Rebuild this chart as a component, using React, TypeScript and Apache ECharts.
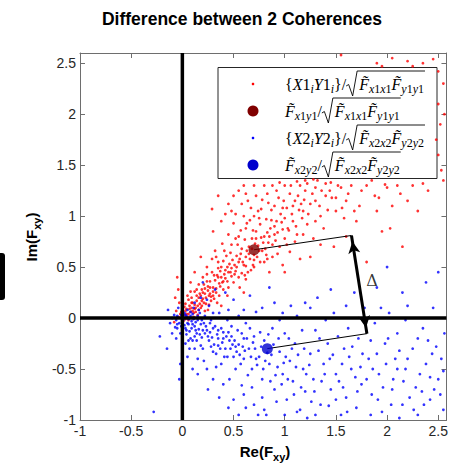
import React, { useEffect, useRef } from 'react';
import * as echarts from 'echarts';

// ---------------- data ----------------
const xRange = [-1, 2.58];
const yRange = [-1, 2.6];
const tickValues = [-1, -0.5, 0, 0.5, 1, 1.5, 2, 2.5];

const redPoints: number[][] = [
  [0.02,0.03],[0.05,0.01],[-0.02,0.04],[0.08,0.06],[0.04,0.09],[0.11,0.05],[0.01,-0.03],[0.07,0.12],[0.13,0.1],[-0.04,0.01],
  [0.1,0.15],[0.16,0.08],[0.03,0.14],[0.06,-0.02],[0.14,0.17],[0.19,0.12],[0.09,0.2],[-0.06,0.07],[0.2,0.19],[0.17,0.24],
  [0.23,0.14],[0.12,0.26],[0.26,0.22],[0.22,0.29],[0.0,0.1],[0.15,0.03],[-0.08,-0.04],[0.28,0.17],[0.05,0.22],[0.25,0.08],
  [0.3,0.3],[0.33,0.25],[0.27,0.36],[0.36,0.34],[0.31,0.42],[0.4,0.28],[0.38,0.4],[0.44,0.36],[0.35,0.49],[0.42,0.47],
  [0.48,0.41],[0.46,0.53],[0.52,0.46],[0.5,0.35],[0.4,0.56],[0.55,0.55],[0.58,0.44],[0.53,0.61],[0.6,0.52],[0.47,0.64],
  [0.62,0.6],[0.56,0.3],[0.34,0.15],[0.44,0.22],[0.2,0.4],[0.16,0.33],[0.24,0.5],[0.29,0.58],[0.62,0.38],[0.67,0.47],
  [0.22,0.07],[0.38,0.12],[0.6,0.25],[0.12,0.45],[0.18,0.6],[0.32,0.66],[0.45,0.3],[0.25,0.27],[0.58,0.68],[0.39,0.73],
  [0.65,0.7],[0.7,0.62],[0.68,0.78],[0.74,0.71],[0.72,0.85],[0.78,0.66],[0.8,0.8],[0.76,0.92],[0.84,0.74],[0.86,0.88],
  [0.82,0.97],[0.9,0.82],[0.92,0.95],[0.95,0.7],[0.88,0.6],[0.62,0.88],[0.55,0.8],[0.5,0.93],[0.6,1.0],[0.98,0.87],
  [1.0,0.78],[0.7,0.5],[0.8,0.55],[0.96,1.02],[0.74,1.05],[0.45,0.82],[0.66,0.96],[1.05,0.65],[0.85,0.45],[0.9,1.1],
  [0.58,1.12],[0.78,1.16],[1.08,0.95],[1.12,0.82],[0.3,0.85],[0.42,1.02],[1.15,0.58],[0.98,0.52],
  [1.02,1.08],[1.1,1.15],[1.05,1.22],[1.18,1.05],[1.2,1.25],[1.15,1.3],[1.25,1.12],[1.3,1.28],[1.22,0.92],[1.35,1.0],
  [1.28,0.78],[1.4,1.2],[1.0,1.3],[0.92,1.25],[1.45,1.33],[1.38,0.88],[1.5,1.05],[1.32,1.35],[1.55,1.28],[1.48,0.7],
  [1.6,1.15],[0.8,1.3],[1.12,1.34],[1.65,1.3],[1.7,0.95],[1.25,0.6],
  [1.75,1.25],[1.85,1.35],[1.9,1.05],[2.0,1.28],[2.1,1.3],[1.95,0.85],[2.25,1.3],[2.4,1.25],[2.55,1.35],[2.3,1.05],
  [2.5,1.6],[2.52,1.9],[2.5,2.1],[2.55,2.3],[2.48,1.75],[1.9,2.5],[2.05,2.55],[2.2,2.52],[2.35,2.5],[2.45,2.54],
  [1.55,2.58],[1.95,2.47],[2.25,2.47],[0.6,1.3],[0.5,1.2],[2.15,0.7],[1.8,0.55],[1.0,0.45],
  [0.29,1.07],[-0.05,0.4],[0.08,0.35],[1.98,1.31],[2.13,1.22],[2.03,0.88],[2.53,1.45],[2.56,2.0],[2.5,2.42],
  [0.18,0.22],[0.21,0.33],[0.27,0.24],[0.32,0.37],[0.29,0.45],[0.37,0.31],[0.41,0.43],[0.35,0.55],[0.44,0.5],[0.49,0.57],
  [0.43,0.61],[0.51,0.52],[0.57,0.63],[0.54,0.72],[0.63,0.66],[0.66,0.58],[0.61,0.77],[0.71,0.73],[0.69,0.86],[0.77,0.79],
  [0.73,0.6],[0.83,0.84],[0.81,0.68],[0.87,0.96],[0.91,0.76],[0.64,0.45],[0.47,0.45],[0.36,0.22],[0.24,0.43],[0.14,0.28],
  [0.09,0.15],[0.19,0.17],[0.06,0.18],[0.26,0.13],[0.31,0.19],[0.13,0.06],[0.03,0.07],[0.11,0.01],[0.17,0.14],[0.23,0.2],
  [0.99,1.15],[1.07,1.02],[0.94,1.18],[1.13,1.2],[1.17,0.98],[0.75,0.98],[0.67,1.08],[0.87,1.06],[1.27,1.22],[1.03,0.88],
  [0.15,0.12],[0.2,0.25],[0.25,0.31],[0.28,0.21],[0.33,0.29],[0.35,0.4],[0.39,0.35],[0.42,0.39],[0.45,0.45],[0.48,0.49],
  [0.51,0.43],[0.53,0.5],[0.56,0.58],[0.59,0.55],[0.62,0.51],[0.65,0.63],[0.68,0.68],[0.7,0.57],[0.72,0.78],[0.75,0.66],
  [0.79,0.74],[0.82,0.62],[0.85,0.8],[0.88,0.72],[0.9,0.9],[0.93,0.84],[0.97,0.94],[1.0,0.98],[1.04,0.86],[1.08,1.1],
  [1.11,0.9],[1.14,1.06],[1.19,1.16],[1.23,1.02],[1.3,1.15],[1.36,1.25],[1.42,1.06],[1.46,1.18],[1.52,1.3],[1.58,0.98],
  [0.38,0.5],[0.33,0.6],[0.41,0.66],[0.48,0.72],[0.52,0.78],[0.57,0.86],[0.63,0.93],[0.7,1.0],[0.77,1.07],[0.84,1.13],
  [0.55,0.4],[0.61,0.42],[0.69,0.52],[0.76,0.55],[0.83,0.58],[0.93,0.63],[1.02,0.72],[1.1,0.75],[1.18,0.82],[1.3,0.95],
  [0.04,0.04],[0.07,0.09],[0.1,0.07],[0.12,0.13],[0.02,0.11],[-0.01,0.06],[0.16,0.2],[0.21,0.15],[0.19,0.28],[0.3,0.26],
  [0.45,1.12],[0.62,1.22],[0.88,1.3],[1.2,1.35],[1.4,1.32],[1.73,1.1],[1.88,1.2],[2.2,1.15],[1.6,0.8],[1.35,0.72],
  [0.48,1.05],[0.55,1.25],[0.64,1.15],[0.7,1.3],[0.72,1.2],[0.83,1.22],[0.95,1.33],[0.98,1.08],[1.06,1.3],[1.16,1.12],
  [1.22,1.32],[1.34,1.1],[1.44,1.25],[1.5,1.18],[1.62,1.22],[1.68,1.05],[1.8,1.3],[1.92,1.18],[2.05,1.1],[2.35,1.32],
  [1.56,1.08],[1.28,1.36],[0.38,0.95],[0.52,1.02],[0.35,1.2],
  [0.0,0.02],[0.03,-0.01],[0.06,0.04],[0.09,0.1],[0.12,0.09],[0.14,0.22],[0.18,0.1],[0.08,0.26],[0.22,0.24],[0.24,0.36],
  [0.27,0.3],[0.3,0.22],[0.34,0.42],[0.37,0.46],[0.4,0.36],[-0.03,0.15],[-0.07,0.2],[-0.04,0.28],
];

const bluePoints: number[][] = [
  [0.01,-0.02],[0.04,0.02],[-0.03,-0.05],[0.06,-0.06],[0.02,0.05],[-0.05,0.02],[0.09,-0.03],[0.03,-0.1],[0.1,0.04],[-0.07,-0.09],
  [0.12,-0.08],[0.07,-0.13],[0.15,-0.02],[0.05,0.08],[-0.02,-0.15],[0.14,-0.15],[0.18,-0.06],[0.11,0.1],[-0.1,0.0],[0.2,-0.12],
  [0.08,-0.2],[0.17,0.05],[-0.04,0.1],[0.22,0.02],[0.03,-0.25],
  [0.25,-0.18],[0.3,-0.1],[0.28,-0.28],[0.35,-0.2],[0.33,-0.35],[0.4,-0.14],[0.42,-0.3],[0.38,-0.45],[0.46,-0.22],[0.5,-0.38],
  [0.48,-0.08],[0.55,-0.26],[0.52,-0.5],[0.58,-0.15],[0.6,-0.4],[0.2,-0.3],[0.15,-0.4],[0.24,-0.5],[0.3,-0.6],[0.12,-0.3],
  [0.36,0.05],[0.45,0.08],[0.26,0.12],[0.18,0.2],[0.55,0.02],[0.1,-0.5],[0.4,-0.65],[0.62,-0.05],[0.2,0.35],[0.32,0.28],
  [0.5,0.18],[0.42,0.25],
  [0.65,-0.3],[0.7,-0.18],[0.68,-0.5],[0.75,-0.38],[0.78,-0.6],[0.8,-0.22],[0.85,-0.45],[0.88,-0.1],[0.9,-0.7],[0.95,-0.33],
  [0.98,-0.55],[1.0,-0.15],[1.02,-0.8],[1.05,-0.42],[1.08,-0.62],[1.1,-0.25],[1.12,0.02],[1.15,-0.9],[1.18,-0.5],[0.7,-0.85],
  [0.6,-0.75],[0.55,-0.95],[0.82,-0.95],[0.72,0.06],[0.9,0.15],[0.95,-0.02],[1.2,-0.72],[0.66,0.22],[0.85,0.3],[0.78,-0.78],
  [1.06,0.12],
  [1.25,-0.35],[1.28,-0.6],[1.3,-0.12],[1.35,-0.85],[1.38,-0.45],[1.42,-0.25],[1.45,-0.7],[1.48,0.05],[1.5,-0.55],[1.55,-0.95],
  [1.58,-0.3],[1.6,-0.78],[1.62,-0.1],[1.65,-0.5],[1.7,-0.88],[1.72,-0.2],[1.75,-0.65],[1.78,0.1],[1.32,0.2],[1.45,0.28],
  [1.22,-0.98],[1.4,-0.02],[1.68,0.25],[1.25,0.1],
  [1.82,-0.4],[1.85,-0.75],[1.88,-0.05],[1.92,-0.55],[1.95,-0.92],[1.98,-0.25],[2.02,0.05],[2.05,-0.7],[2.08,-0.4],[2.1,-0.15],
  [2.15,-0.85],[2.18,-0.5],[2.2,0.12],[2.25,-0.3],[2.28,-0.68],[2.3,-0.95],[2.35,-0.1],[2.38,-0.45],[2.42,-0.8],[2.45,0.1],
  [2.48,-0.28],[2.5,-0.6],[2.55,-0.9],[2.56,-0.15],[1.9,0.3],[2.38,0.35],[2.15,0.25],[2.5,0.45],[2.0,0.5],
  [-0.22,-0.18],[-0.28,-0.92],[-0.03,-0.6],[-0.02,-0.45],[-0.15,-0.3],
  [0.05,-0.05],[0.09,-0.1],[0.13,-0.04],[0.16,-0.11],[0.19,-0.19],[0.23,-0.08],[0.27,-0.14],[0.26,-0.22],[0.31,-0.26],[0.34,-0.16],
  [0.37,-0.3],[0.39,-0.24],[0.43,-0.18],[0.44,-0.38],[0.47,-0.3],[0.51,-0.22],[0.53,-0.33],[0.57,-0.45],[0.59,-0.28],[0.63,-0.2],
  [0.64,-0.56],[0.67,-0.38],[0.71,-0.3],[0.73,-0.46],[0.76,-0.14],[0.79,-0.5],[0.83,-0.34],[0.86,-0.62],[0.89,-0.26],[0.93,-0.48],
  [0.97,-0.65],[1.01,-0.38],[1.04,-0.2],[1.09,-0.75],[1.13,-0.36],[1.17,-0.12],[1.21,-0.55],[1.26,-0.82],[1.33,-0.32],[1.36,-0.62],
  [1.44,-0.4],[1.52,-0.18],[1.57,-0.68],[1.63,-0.38],[1.69,-0.58],[1.76,-0.35],[1.84,-0.22],[1.91,-0.8],[1.99,-0.45],[2.06,-0.6],
  [2.12,-0.32],[2.22,-0.78],[2.32,-0.55],[2.4,-0.22],[2.46,-0.7],[2.53,-0.4],[0.14,-0.22],[0.07,-0.3],[0.21,-0.42],[0.33,-0.48],
  [0.46,-0.6],[0.58,-0.66],[0.5,-0.8],[0.36,-0.78],[0.62,-0.88],[0.8,-0.9],[1.0,-0.95],[0.28,-0.02],[0.12,0.15],[0.24,0.18],
  [0.02,-0.07],[0.06,-0.01],[0.1,-0.06],[0.13,-0.12],[0.04,-0.16],[0.17,-0.16],[0.21,-0.05],[0.24,-0.12],[0.1,-0.22],[0.18,-0.27],
  [0.29,-0.19],[0.32,-0.08],[0.35,-0.27],[0.38,-0.1],[0.41,-0.38],[0.45,-0.14],[0.49,-0.26],[0.54,-0.12],[0.56,-0.36],[0.61,-0.32],
  [0.66,-0.1],[0.69,-0.24],[0.72,-0.4],[0.77,-0.28],[0.81,-0.42],[0.84,-0.16],[0.87,-0.36],[0.91,-0.56],[0.94,-0.2],[0.99,-0.44],
  [1.03,-0.6],[1.07,-0.3],[1.11,-0.48],[1.16,-0.68],[1.19,-0.3],[1.24,-0.46],[1.29,-0.72],[1.34,-0.2],[1.39,-0.55],[1.43,-0.86],
  [1.47,-0.36],[1.53,-0.62],[1.56,-0.45],[1.61,-0.92],[1.66,-0.28],[1.71,-0.72],[1.74,-0.48],[1.8,-0.6],[1.86,-0.5],[1.9,-0.35],
  [1.96,-0.68],[2.01,-0.2],[2.04,-0.85],[2.1,-0.5],[2.16,-0.62],[2.2,-0.4],[2.26,-0.9],[2.3,-0.2],[2.34,-0.72],[2.42,-0.58],
  [2.44,-0.35],[2.52,-0.75],[2.55,-0.52],[2.36,-0.85],[2.18,-0.02],[1.94,0.1],[1.6,0.12],[1.2,0.15],[0.98,0.05],[0.78,0.1],
  [0.6,0.08],[0.44,-0.02],[0.3,0.05],[0.16,0.08],[0.08,0.02],[-0.06,-0.02],[-0.01,-0.08],[0.0,-0.3],[0.05,-0.38],[0.15,-0.55],
  [0.25,-0.7],[0.45,-0.88],[0.68,-0.68],[0.74,-0.95],[0.92,-0.82],[1.12,-0.92],[1.3,-0.95],[1.5,-0.8],[1.84,-0.95],[2.12,-0.98],
  [0.0,0.0],[0.03,0.03],[-0.01,0.03],[0.07,0.0],[0.11,-0.01],[0.08,0.06],[-0.05,-0.06],[0.04,-0.12],[0.15,0.02],[0.19,-0.02],
  [0.22,-0.15],[0.27,-0.05],[0.12,-0.18],[0.06,-0.22],[0.3,-0.33],[0.35,-0.12],[0.4,-0.2],[0.48,-0.18],[0.52,-0.28],[0.6,-0.2],
  [-0.08,0.03],[-0.12,-0.05],[-0.1,-0.15],[-0.06,-0.2],[-0.14,0.08],[-0.05,-0.1],
];

const redMean = [0.7, 0.67];
const blueMean = [0.83, -0.3];
const upperTip = [1.652, 0.81];
const lowerTip = [1.803, -0.153];
const deltaPos = [1.852, 0.373];

const titleText = 'Difference between 2 Coherences';
const xName = 'Re(F_[xy])';
const yName = 'Im(F_[xy])';
const deltaText = 'Δ';
// "#" = start of square root (to end), "_[..]" = subscript, \u0303 = tilde
const legendFormulas = [
  '{X1_[i]Y1_[i]}/#F\u0303_[x1x1]F\u0303_[y1y1]',
  'F\u0303_[x1y1]/#F\u0303_[x1x1]F\u0303_[y1y1]',
  '{X2_[i]Y2_[i]}/#F\u0303_[x2x2]F\u0303_[y2y2]',
  'F\u0303_[x2y2]/#F\u0303_[x2x2]F\u0303_[y2y2]',
];

// ---------------- styling ----------------
const SANS = "'Liberation Sans', Arial, Helvetica, sans-serif";
const SERIF = "'Liberation Serif', 'Times New Roman', serif";
const RED = '#ff0000';
const BLUE = '#0000ff';
const DARKRED = '#800000';
const DARKBLUE = '#0000cd';
const AXIS = '#6e6e6e';
const LABEL = '#262626';

interface FCfg { main: number; sub: number; subDy: number; family: string; weight: string; italic: boolean; }

let mctx: CanvasRenderingContext2D | null = null;
function measure(t: string, size: number, cfg: FCfg, it: boolean) {
  if (!mctx) mctx = document.createElement('canvas').getContext('2d');
  if (!mctx) return t.length * size * 0.55;
  mctx.font = `${it ? 'italic' : 'normal'} ${cfg.weight} ${size}px ${cfg.family}`;
  return mctx.measureText(t).width;
}

function layoutFormula(src: string, cfg: FCfg, offsetX = 0) {
  const toks: { t: string; sub: boolean; it: boolean; rad?: boolean }[] = [];
  let sub = false;
  for (let i = 0; i < src.length; i++) {
    const c = src[i];
    if (c === '#') { toks.push({ t: '', sub: false, it: false, rad: true }); continue; }
    if (c === '_' && src[i + 1] === '[') { sub = true; i++; continue; }
    if (c === ']' && sub) { sub = false; continue; }
    if (c === '\u0303' && toks.length) { toks[toks.length - 1].t += c; continue; }
    toks.push({ t: c, sub, it: cfg.italic && /[A-Za-z]/.test(c) });
  }
  const items: { t: string; x: number; sub: boolean; it: boolean }[] = [];
  let x = 0;
  let radX = -1;
  for (const tk of toks) {
    if (tk.rad) { radX = x; x += 13; continue; }
    const size = tk.sub ? cfg.sub : cfg.main;
    items.push({ t: tk.t, x, sub: tk.sub, it: tk.it });
    x += measure(tk.t, size, cfg, tk.it);
  }
  const width = x;
  const ox = offsetX * width;
  const children: any[] = items.map((it) => ({
    type: 'text',
    x: it.x + ox,
    y: it.sub ? cfg.subDy : 0,
    silent: true,
    style: {
      text: it.t,
      fontSize: it.sub ? cfg.sub : cfg.main,
      fontFamily: cfg.family,
      fontWeight: cfg.weight,
      fontStyle: it.it ? 'italic' : 'normal',
      fill: '#000',
      align: 'left',
      verticalAlign: 'middle',
    },
  }));
  if (radX >= 0) {
    const r = radX + ox;
    children.push({
      type: 'polyline',
      silent: true,
      shape: { points: [[r, 2], [r + 2.5, 0.5], [r + 6.5, 12], [r + 11, -13], [width + ox + 1, -13]] },
      style: { stroke: '#000', lineWidth: 0.9, fill: null },
    });
  }
  return { children, width };
}

export default function App() {
  const ref = useRef<HTMLDivElement>(null);

  useEffect(() => {
    if (!ref.current) return;
    const chart = echarts.init(ref.current, null, { renderer: 'svg' });

    const legCfg: FCfg = { main: 16, sub: 12, subDy: 5, family: SERIF, weight: 'normal', italic: true };
    const nameCfg: FCfg = { main: 15, sub: 11, subDy: 6, family: SANS, weight: 'bold', italic: false };

    const legendX = 285;
    const legendYs = [84, 111, 138, 165];
    const markerStyles = [
      { r: 1.3, fill: RED },
      { r: 5.5, fill: DARKRED },
      { r: 1.3, fill: BLUE },
      { r: 5.5, fill: DARKBLUE },
    ];

    const legendChildren: any[] = [
      {
        type: 'rect',
        shape: { x: 218, y: 67.5, width: 219, height: 111 },
        style: { fill: '#fff', stroke: '#262626', lineWidth: 1 },
      },
    ];
    legendFormulas.forEach((f, i) => {
      const m = markerStyles[i];
      legendChildren.push({
        type: 'circle',
        shape: { cx: 253, cy: legendYs[i], r: m.r },
        style: { fill: m.fill },
      });
      const lf = layoutFormula(f, legCfg);
      legendChildren.push({ type: 'group', x: legendX, y: legendYs[i], children: lf.children });
    });

    const xn = layoutFormula(xName, nameCfg, -0.5);
    const yn = layoutFormula(yName, nameCfg, -0.5);

    const baseAxis = {
      type: 'value',
      splitLine: { show: false },
      axisLine: { show: true, onZero: false, lineStyle: { color: AXIS, width: 1 } },
      axisTick: { show: true, inside: true, length: 5, customValues: tickValues, lineStyle: { color: AXIS, width: 1 } },
    };
    const labelStyle = { fontSize: 14, color: LABEL, fontFamily: SANS, customValues: tickValues };

    const option: any = {
      animation: false,
      backgroundColor: '#fff',
      grid: { left: 80, top: 53, width: 368, height: 367, containLabel: false },
      xAxis: [
        { ...baseAxis, min: xRange[0], max: xRange[1], position: 'bottom', axisLabel: { ...labelStyle, margin: 4 } },
        { ...baseAxis, min: xRange[0], max: xRange[1], position: 'top', axisLabel: { show: false } },
      ],
      yAxis: [
        { ...baseAxis, min: yRange[0], max: yRange[1], position: 'left', axisLabel: { ...labelStyle, margin: 4 } },
        { ...baseAxis, min: yRange[0], max: yRange[1], position: 'right', axisLabel: { show: false } },
      ],
      series: [
        {
          type: 'scatter', name: 'red', data: redPoints, symbolSize: 2.8, z: 2,
          itemStyle: { color: RED }, silent: true,
        },
        {
          type: 'scatter', name: 'blue', data: bluePoints, symbolSize: 2.8, z: 2,
          itemStyle: { color: BLUE }, silent: true,
        },
        {
          type: 'line', data: [[xRange[0], 0], [xRange[1], 0]], symbol: 'none', z: 3, silent: true,
          lineStyle: { color: '#000', width: 3.5 },
        },
        {
          type: 'line', data: [[0, yRange[0]], [0, yRange[1]]], symbol: 'none', z: 3, silent: true,
          lineStyle: { color: '#000', width: 3.5 },
        },
        {
          type: 'line', data: [redMean, upperTip], symbol: 'none', z: 4, silent: true,
          lineStyle: { color: '#000', width: 1 },
        },
        {
          type: 'line', data: [blueMean, lowerTip], symbol: 'none', z: 4, silent: true,
          lineStyle: { color: '#000', width: 1 },
        },
        {
          type: 'line', data: [], z: 5, silent: true,
          markLine: {
            silent: true,
            animation: false,
            symbol: ['arrow', 'arrow'],
            symbolSize: [9, 12],
            symbolOffset: [[0, 6], [0, 6]],
            label: { show: false },
            emphasis: { disabled: true },
            lineStyle: { color: '#000', width: 3, type: 'solid' },
            data: [[{ coord: upperTip }, { coord: lowerTip }]],
          },
        },
        {
          type: 'scatter', data: [redMean], symbolSize: 11, z: 6, silent: true,
          itemStyle: { color: DARKRED },
        },
        {
          type: 'scatter', data: [blueMean], symbolSize: 11, z: 6, silent: true,
          itemStyle: { color: DARKBLUE },
        },
        {
          type: 'scatter', data: [deltaPos], symbolSize: 1, z: 6, silent: true,
          itemStyle: { color: 'rgba(0,0,0,0)' },
          label: { show: true, position: 'inside', formatter: deltaText, fontSize: 16, fontFamily: "'DejaVu Serif', serif", color: '#000' },
        },
      ],
      graphic: {
        elements: [
          {
            type: 'text', x: 242, y: 19, z: 100, silent: true,
            style: { text: titleText, fontSize: 17.5, fontWeight: 'bold', fontFamily: SANS, fill: '#000', align: 'center', verticalAlign: 'middle' },
          },
          { type: 'group', x: 265, y: 451, z: 100, children: xn.children },
          { type: 'group', x: 31, y: 237, rotation: Math.PI / 2, z: 100, children: yn.children },
          { type: 'group', z: 100, children: legendChildren },
          {
            type: 'rect', z: 100, shape: { x: 0, y: 253, width: 5, height: 47, r: [0, 3, 3, 0] },
            style: { fill: '#000' },
          },
        ],
      },
    };

    chart.setOption(option);
    return () => chart.dispose();
  }, []);

  return <div ref={ref} style={{ position: 'absolute', left: 0, top: 0, width: 451, height: 471 }} />;
}
